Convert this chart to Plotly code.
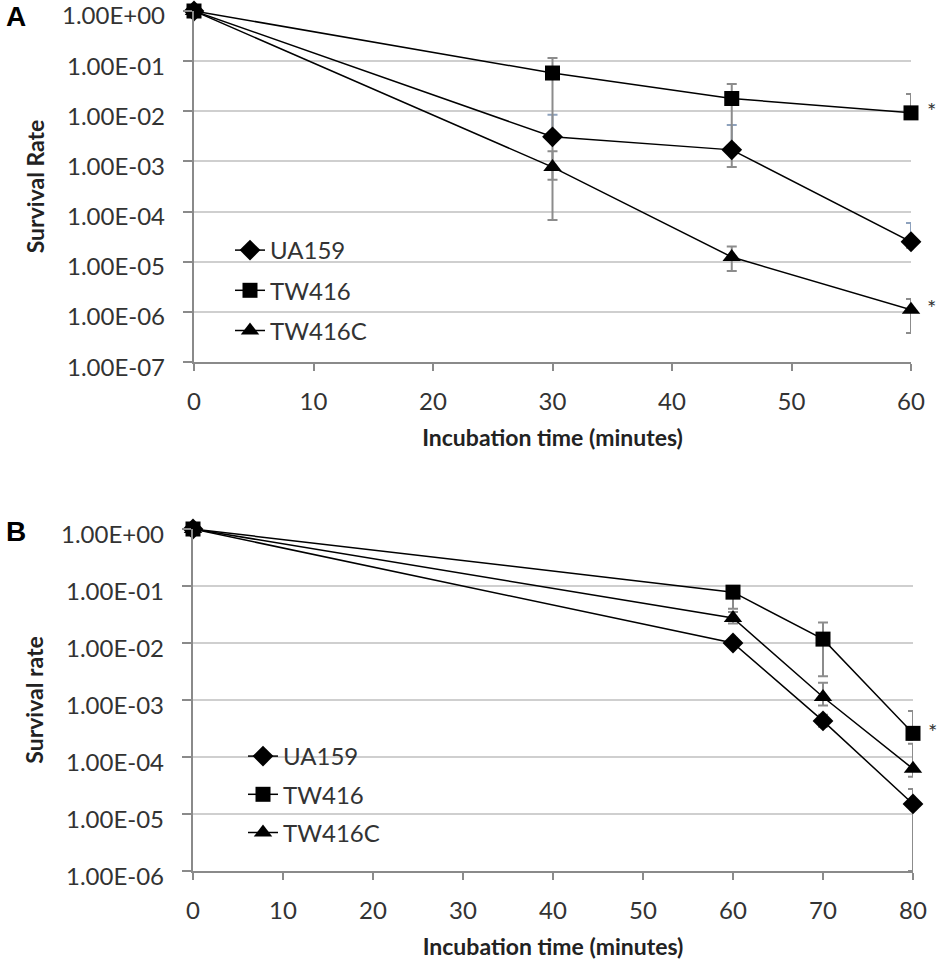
import math
import plotly.graph_objects as go

# panel A data
time_a = [0, 30, 45, 60]
ua159_a = [1.0, 3.1e-3, 1.7e-3, 2.5e-5]
ua159_a_hi = [1.0, 8.5e-3, 5.3e-3, 5.9e-5]
ua159_a_lo = [1.0, 4.3e-4, 7.7e-4, 1.9e-5]
tw416_a = [1.0, 5.8e-2, 1.8e-2, 9.3e-3]
tw416_a_hi = [1.0, 1.15e-1, 3.5e-2, 2.2e-2]
tw416_a_lo = [1.0, 3.5e-3, 2.1e-3, 7.5e-3]
tw416c_a = [1.0, 7.7e-4, 1.24e-5, 1.1e-6]
tw416c_a_hi = [1.0, 1.6e-3, 2.0e-5, 1.8e-6]
tw416c_a_lo = [1.0, 6.8e-5, 6.5e-6, 3.8e-7]

# panel B data
time_b = [0, 60, 70, 80]
ua159_b = [1.0, 1.0e-2, 4.3e-4, 1.5e-5]
ua159_b_hi = [1.0, 1.2e-2, 5.5e-4, 2.75e-5]
ua159_b_lo = [1.0, 8.5e-3, 3.4e-4, 1.0e-6]
tw416_b = [1.0, 7.8e-2, 1.17e-2, 2.6e-4]
tw416_b_hi = [1.0, 9.5e-2, 2.3e-2, 6.4e-4]
tw416_b_lo = [1.0, 4.0e-2, 2.6e-3, 2.0e-4]
tw416c_b = [1.0, 2.75e-2, 1.13e-3, 6.2e-5]
tw416c_b_hi = [1.0, 3.5e-2, 2.0e-3, 1.7e-4]
tw416c_b_lo = [1.0, 2.2e-2, 8.0e-4, 4.5e-5]

names = ["UA159", "TW416", "TW416C"]
symbols = ["diamond", "square", "triangle-up"]
sizes = [16, 15, 16]

ticks_a = [1, 1e-1, 1e-2, 1e-3, 1e-4, 1e-5, 1e-6, 1e-7]
ticklabels_a = ["1.00E+00", "1.00E-01", "1.00E-02", "1.00E-03",
                "1.00E-04", "1.00E-05", "1.00E-06", "1.00E-07"]
ticks_b = ticks_a[:7]
ticklabels_b = ticklabels_a[:7]

FONT = "Lato"
GREY_ERR = "#8c8c8c"
BLUE_ERR = "#8ea2bd"

W, H = 950, 969


def px(x):
    return x / W


def py(y):
    return 1 - y / H


fig = go.Figure()


def err_trace(x, y, hi, lo, xa, ya, color=GREY_ERR, up=True, down=True):
    plus = [h - v for h, v in zip(hi, y)] if up else [0] * len(y)
    minus = [v - l for v, l in zip(y, lo)] if down else [0] * len(y)
    return go.Scatter(x=x, y=y, mode="markers", marker=dict(size=1, opacity=0),
                      error_y=dict(type="data", symmetric=False, array=plus, arrayminus=minus,
                                   color=color, thickness=2, width=5),
                      xaxis=xa, yaxis=ya, showlegend=False, hoverinfo="skip")


# error bars first so the markers sit on top
fig.add_trace(err_trace(time_a, ua159_a, ua159_a_hi, ua159_a_lo, "x", "y", up=False))
fig.add_trace(err_trace(time_a, ua159_a, ua159_a_hi, ua159_a_lo, "x", "y", color=BLUE_ERR, down=False))
fig.add_trace(err_trace(time_a, tw416_a, tw416_a_hi, tw416_a_lo, "x", "y"))
fig.add_trace(err_trace(time_a, tw416c_a, tw416c_a_hi, tw416c_a_lo, "x", "y"))
fig.add_trace(err_trace(time_b, ua159_b, ua159_b_hi, ua159_b_lo, "x2", "y2"))
fig.add_trace(err_trace(time_b, tw416_b, tw416_b_hi, tw416_b_lo, "x2", "y2"))
fig.add_trace(err_trace(time_b, tw416c_b, tw416c_b_hi, tw416c_b_lo, "x2", "y2"))

series_a = [ua159_a, tw416_a, tw416c_a]
series_b = [ua159_b, tw416_b, tw416c_b]
for i in range(3):
    fig.add_trace(go.Scatter(x=time_a, y=series_a[i], name=names[i], mode="lines+markers",
                             line=dict(color="black", width=1.5),
                             marker=dict(symbol=symbols[i], size=sizes[i], color="black"),
                             cliponaxis=False, xaxis="x", yaxis="y", legend="legend",
                             legendgroup="a" + str(i)))
for i in range(3):
    fig.add_trace(go.Scatter(x=time_b, y=series_b[i], name=names[i], mode="lines+markers",
                             line=dict(color="black", width=1.5),
                             marker=dict(symbol=symbols[i], size=sizes[i], color="black"),
                             cliponaxis=False, xaxis="x2", yaxis="y2", legend="legend2",
                             legendgroup="b" + str(i)))

xcommon = dict(showgrid=False, showline=True, linecolor="#8a8a8a", linewidth=2,
               ticks="outside", ticklen=7, tickwidth=2, tickcolor="#8a8a8a",
               tickfont=dict(family=FONT, size=24, color="#333"), ticklabelstandoff=10,
               zeroline=False, dtick=10, automargin=False, ticklabeloverflow="allow",
               title=dict(text="<b>Incubation time (minutes)</b>",
                          font=dict(family=FONT, size=23, color="#222"), standoff=16))
# y tick labels are drawn as annotations below (Excel sets them a few px low)
ycommon = dict(type="log", showgrid=True, gridcolor="#cfcfcf", gridwidth=2,
               showline=True, linecolor="#8a8a8a", linewidth=2,
               ticks="outside", ticklen=9, tickwidth=2, tickcolor="#8a8a8a",
               showticklabels=False, zeroline=False, automargin=False)

fig.update_layout(
    width=W, height=H, margin=dict(l=0, r=0, t=0, b=0),
    paper_bgcolor="white", plot_bgcolor="white",
    xaxis=dict(xcommon, domain=[px(194), px(911)], range=[0, 60], anchor="y"),
    yaxis=dict(ycommon, domain=[py(362), py(11)], range=[-7, 0], anchor="x",
               tickvals=ticks_a,
               title=dict(text="<b>Survival Rate</b>", font=dict(family=FONT, size=23, color="#222"),
                          standoff=132)),
    xaxis2=dict(xcommon, domain=[px(193), px(913)], range=[0, 80], anchor="y2"),
    yaxis2=dict(ycommon, domain=[py(871), py(529)], range=[-6, 0], anchor="x2",
                tickvals=ticks_b,
                title=dict(text="<b>Survival rate</b>", font=dict(family=FONT, size=23, color="#222"),
                           standoff=132)),
    legend=dict(x=px(230), y=py(228), xanchor="left", yanchor="top",
                bgcolor="rgba(0,0,0,0)", font=dict(family=FONT, size=24, color="#333"),
                tracegroupgap=6),
    legend2=dict(x=px(243), y=py(734), xanchor="left", yanchor="top",
                 bgcolor="rgba(0,0,0,0)", font=dict(family=FONT, size=24, color="#333"),
                 tracegroupgap=4),
    showlegend=True,
)

# y tick labels
for tv, tl in zip(ticks_a, ticklabels_a):
    fig.add_annotation(text=tl, x=0, y=math.log10(tv), xref="x domain", yref="y",
                       xanchor="right", yanchor="middle", showarrow=False,
                       xshift=-27, yshift=-4, font=dict(family=FONT, size=24, color="#333"))
for tv, tl in zip(ticks_b, ticklabels_b):
    fig.add_annotation(text=tl, x=0, y=math.log10(tv), xref="x2 domain", yref="y2",
                       xanchor="right", yanchor="middle", showarrow=False,
                       xshift=-27, yshift=-4, font=dict(family=FONT, size=24, color="#333"))

# panel letters
fig.add_annotation(text="<b>A</b>", x=px(4), y=py(16), xref="paper", yref="paper",
                   xanchor="left", yanchor="middle", showarrow=False,
                   font=dict(family="Liberation Sans", size=28, color="black"))
fig.add_annotation(text="<b>B</b>", x=px(4), y=py(531), xref="paper", yref="paper",
                   xanchor="left", yanchor="middle", showarrow=False,
                   font=dict(family="Liberation Sans", size=28, color="black"))

# significance stars next to the last points
for yv in [tw416_a[-1], tw416c_a[-1]]:
    fig.add_annotation(text="*", x=1, y=math.log10(yv), xref="x domain", yref="y",
                       showarrow=False, xshift=27, yshift=2,
                       font=dict(family=FONT, size=22, color="#333"))
fig.add_annotation(text="*", x=1, y=math.log10(tw416_b[-1]), xref="x2 domain", yref="y2",
                   showarrow=False, xshift=26, yshift=2,
                   font=dict(family=FONT, size=22, color="#333"))

# drop the default page margin so the figure sits at the window corner
fig.write_html("out.html", config={"displayModeBar": False},
               post_script="document.body.style.margin='0';")
